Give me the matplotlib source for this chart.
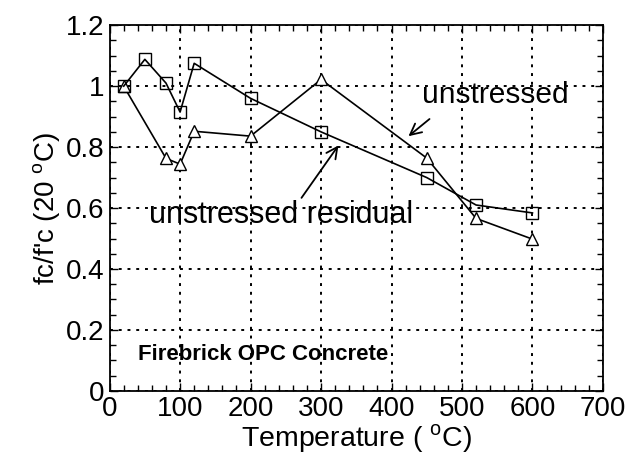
import matplotlib
matplotlib.use("Agg")
import matplotlib.pyplot as plt
from matplotlib.ticker import MultipleLocator

plt.rcParams['font.family'] = ['Liberation Sans', 'DejaVu Sans']
plt.rcParams['mathtext.fontset'] = 'custom'
plt.rcParams['mathtext.rm'] = 'Liberation Sans'

# unstressed (triangles)
temp_unstressed = [20, 80, 100, 120, 200, 300, 450, 520, 600]
ratio_unstressed = [1.0, 0.763, 0.744, 0.852, 0.836, 1.022, 0.764, 0.566, 0.498]

# unstressed residual (squares)
temp_residual = [20, 50, 80, 100, 120, 200, 300, 450, 520, 600]
ratio_residual = [1.0, 1.088, 1.01, 0.915, 1.075, 0.96, 0.85, 0.70, 0.61, 0.584]

fig = plt.figure(figsize=(6.3, 4.67), dpi=100)
ax = fig.add_axes([0.174, 0.163, 0.783, 0.783])

ax.plot(temp_unstressed, ratio_unstressed, color='black', lw=1.2,
        marker='^', ms=9, mfc='white', mec='black', mew=1.0)
ax.plot(temp_residual, ratio_residual, color='black', lw=1.2,
        marker='s', ms=9, mfc='none', mec='black', mew=1.0)

ax.set_xlim(0, 700)
ax.set_ylim(0, 1.2)
ax.xaxis.set_major_locator(MultipleLocator(100))
ax.xaxis.set_minor_locator(MultipleLocator(20))
ax.yaxis.set_major_locator(MultipleLocator(0.2))
ax.yaxis.set_minor_locator(MultipleLocator(0.05))
ax.set_yticks([0, 0.2, 0.4, 0.6, 0.8, 1.0, 1.2])
ax.set_yticklabels(['0', '0.2', '0.4', '0.6', '0.8', '1', '1.2'])

ax.tick_params(which='both', direction='in', top=True, right=True,
               labelsize=20, width=1.0, pad=4)
ax.tick_params(which='major', length=6)
ax.tick_params(which='minor', length=4)
ax.grid(True, which='major', color='black', linestyle=(0, (1.5, 3)), lw=1.4)
for s in ax.spines.values():
    s.set_linewidth(1.3)

ax.set_xlabel('Temperature ( $^{\\rm o}$C)', fontsize=20.5, labelpad=0)
ax.set_ylabel("fc/f'c (20 $^{\\rm o}$C)", fontsize=20, labelpad=2)

ax.text(548, 0.97, 'unstressed', fontsize=21.5, ha='center', va='center')
ax.annotate('', xy=(421, 0.83), xytext=(457, 0.898),
            arrowprops=dict(arrowstyle='->', color='black', lw=1.3,
                            mutation_scale=20))
ax.text(243, 0.577, 'unstressed residual', fontsize=22, ha='center', va='center')
ax.annotate('', xy=(327, 0.813), xytext=(270, 0.626),
            arrowprops=dict(arrowstyle='->', color='black', lw=1.3,
                            mutation_scale=20))
ax.text(40, 0.118, 'Firebrick OPC Concrete', fontsize=16, fontweight='bold',
        ha='left', va='center')

fig.savefig('out.png', dpi=100)
